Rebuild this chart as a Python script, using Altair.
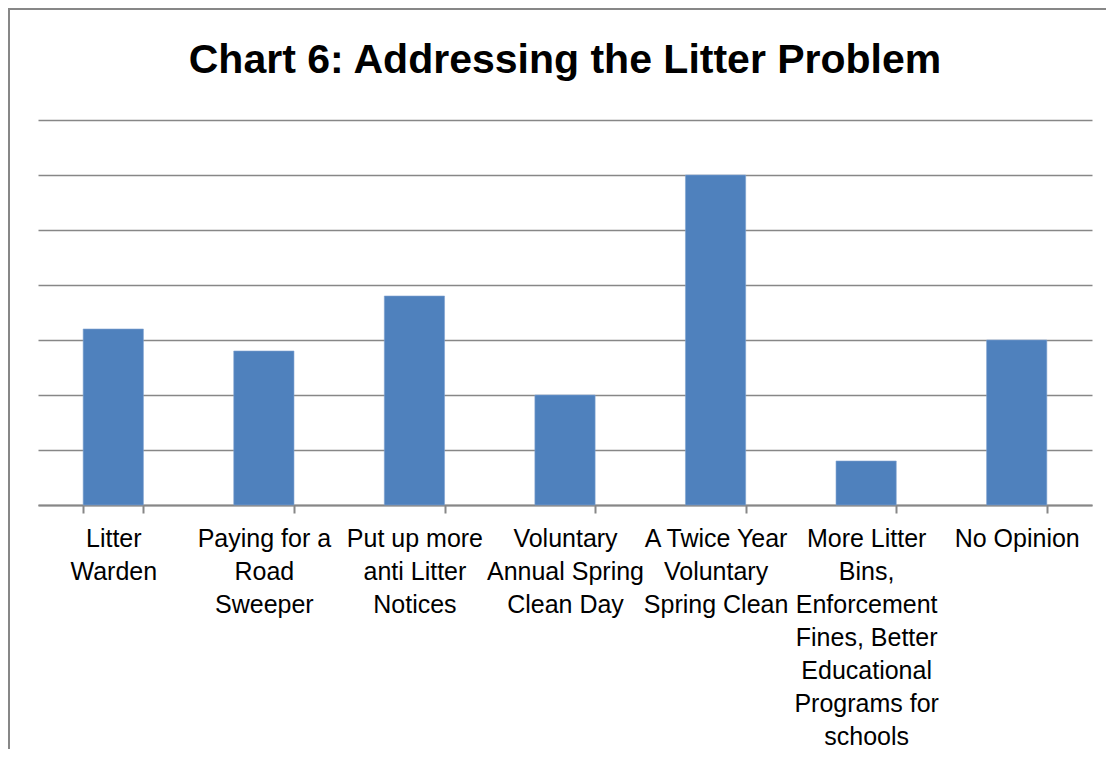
import altair as alt
import pandas as pd

title_text = "Chart 6: Addressing the Litter Problem"
categories = [
    "Litter Warden",
    "Paying for a Road Sweeper",
    "Put up more anti Litter Notices",
    "Voluntary Annual Spring Clean Day",
    "A Twice Year Voluntary Spring Clean",
    "More Litter Bins, Enforcement Fines, Better Educational Programs for schools",
    "No Opinion",
]
label_lines = [
    ["Litter", "Warden"],
    ["Paying for a", "Road", "Sweeper"],
    ["Put up more", "anti Litter", "Notices"],
    ["Voluntary", "Annual Spring", "Clean Day"],
    ["A Twice Year", "Voluntary", "Spring Clean"],
    ["More Litter", "Bins,", "Enforcement", "Fines, Better", "Educational", "Programs for", "schools"],
    ["No Opinion"],
]
values = [16, 14, 19, 10, 30, 4, 15]
y_ticks = [0, 5, 10, 15, 20, 25, 30, 35]

df = pd.DataFrame({"category": categories, "value": values})

label_map = "{" + ", ".join(
    "'" + c.replace("'", "\\'") + "': [" + ", ".join("'" + l + "'" for l in lines) + "]"
    for c, lines in zip(categories, label_lines)
) + "}"

GRAY = "#878787"

bars = alt.Chart(df).mark_bar(color="#4F81BD", stroke="#7FA3D0", strokeWidth=0.6).encode(
    x=alt.X(
        "category:N",
        sort=categories,
        title=None,
        scale=alt.Scale(paddingInner=0.6, paddingOuter=0.3),
        axis=alt.Axis(
            labelAngle=0,
            labelExpr=label_map + "[datum.label]",
            labelFont="Liberation Sans",
            labelFontSize=25,
            labelLineHeight=33,
            labelColor="#000000",
            labelPadding=13,
            labelLimit=300,
            labelBaseline="top",
            tickBand="extent",
            tickSize=8,
            tickColor=GRAY,
            tickWidth=2,
            domainColor=GRAY,
            domainWidth=2,
            grid=False,
        ),
    ),
    y=alt.Y(
        "value:Q",
        title=None,
        scale=alt.Scale(domain=[0, 35], nice=False),
        axis=alt.Axis(
            values=y_ticks,
            labels=False,
            ticks=False,
            domain=False,
            grid=True,
            gridColor=GRAY,
            gridWidth=1.6,
        ),
    ),
)

frame_df = pd.DataFrame({"title": [title_text]})
left_border = alt.Chart(frame_df).mark_rule(color=GRAY, strokeWidth=2).encode(
    x=alt.value(-29), y=alt.value(-111), y2=alt.value(700)
)
top_border = alt.Chart(frame_df).mark_rule(color=GRAY, strokeWidth=2).encode(
    x=alt.value(-30), x2=alt.value(1080), y=alt.value(-111)
)
title_mark = alt.Chart(frame_df).mark_text(
    font="Liberation Sans",
    fontWeight="bold",
    fontSize=41,
    color="#000000",
    align="center",
    baseline="alphabetic",
).encode(
    text="title:N",
    x=alt.value(527),
    y=alt.value(-47),
)

chart = alt.layer(bars, left_border, top_border, title_mark).properties(
    width=1054,
    height=385,
    background="#ffffff",
    autosize=alt.AutoSizeParams(type="none"),
    padding={"left": 30, "top": 112, "right": 14, "bottom": 244},
).configure_view(stroke=None)

chart.save("out.html", embed_options={"renderer": "svg", "actions": False})
